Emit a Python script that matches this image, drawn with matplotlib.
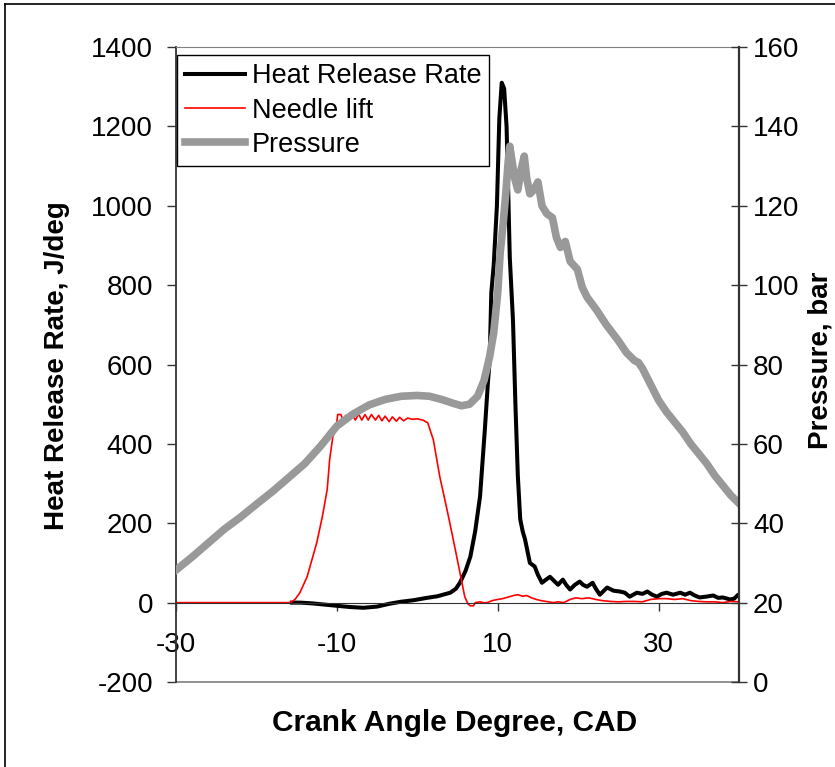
import matplotlib
matplotlib.use("Agg")
import matplotlib.pyplot as plt
from matplotlib.lines import Line2D

plt.rcParams['font.family'] = ['Liberation Sans', 'DejaVu Sans']
plt.rcParams['axes.unicode_minus'] = False

# ---------------- data ----------------
hrr_x = [-15.6, -14.5, -13.0, -11.5, -10.0, -8.4, -6.7, -5.0, -3.5, -2.1, -0.5, 1.2, 2.5, 4.1, 4.8,
         5.3, 6.0, 6.6, 7.2, 7.8, 8.4, 8.8, 9.0, 9.2, 9.5, 9.9, 10.2, 10.5, 10.8, 11.1, 11.3, 11.5,
         11.9, 12.2, 12.5, 12.8, 13.1, 13.4, 14.0, 14.6, 15.0, 15.5, 16.0, 16.5, 17.0, 17.5, 18.1,
         18.5, 19.0, 19.6, 20.2, 20.6, 21.1, 21.8, 22.2, 22.7, 23.6, 24.4, 25.2, 25.8, 26.4, 27.3,
         28.0, 28.6, 29.2, 29.8, 30.4, 31.0, 31.8, 32.7, 33.3, 33.9, 34.5, 35.1, 35.9, 36.8, 37.4,
         38.0, 38.9, 39.4, 39.8]
hrr_y = [0, 0, -2, -5, -8, -11, -13, -10, -3, 2, 6, 12, 16, 25, 35,
         50, 80, 116, 180, 267, 436, 560, 610, 780, 850, 1000, 1220, 1310, 1295, 1200, 1040, 870,
         710, 500, 320, 210, 180, 159, 100, 91, 70, 50, 58, 65, 55, 45, 58,
         45, 33, 45, 53, 45, 40, 50, 35, 20, 38, 30, 28, 25, 15, 25,
         22, 28, 20, 15, 22, 25, 20, 25, 20, 25, 18, 13, 15, 18, 12,
         13, 8, 10, 18]

needle_x = [-30.0, -15.8, -15.2, -14.6, -13.7, -13.1, -12.5, -11.8, -11.2, -10.9, -10.5, -10.1, -9.9,
            -9.5, -9.2, -8.9, -8.5, -8.1, -7.7, -7.3, -6.9, -6.5, -6.1, -5.7, -5.2, -4.8, -4.4,
            -4.0, -3.5, -3.1, -2.6, -2.2, -1.7, -1.2, -0.6, 0.0, 0.7, 1.3, 2.0, 2.8, 3.7, 4.4, 5.3,
            5.9, 6.3, 6.6, 7.0, 7.2, 7.8, 8.2, 8.7, 9.3, 10.0, 10.6, 11.3, 12.0, 12.5, 13.1, 13.6,
            14.2, 14.8, 15.4, 16.0, 16.9, 17.5, 18.2, 19.0, 19.7, 20.5, 21.3, 22.2, 23.0, 24.0,
            25.0, 26.0, 27.0, 28.0, 29.0, 30.0, 31.0, 32.0, 33.0, 34.0, 35.0, 36.0, 37.0, 38.0,
            39.0, 40.0]
needle_y = [0, 0, 8, 25, 65, 108, 151, 217, 285, 360, 418, 436, 474,
            474, 458, 472, 462, 476, 460, 475, 460, 474, 460, 474, 460, 472, 458,
            470, 456, 468, 457, 467, 458, 465, 462, 463, 460, 453, 410, 317, 234, 166, 76,
            15, -3, -8, -8, 0, 2, 0, 0, 5, 8, 10, 14, 18, 20, 16, 18,
            12, 8, 5, 3, 0, 2, 0, 8, 12, 10, 12, 8, 5, 3,
            2, 3, 3, 2, 8, 10, 10, 8, 10, 5, 3, 2, 2, 0,
            3, 2]

press_x = [-30, -28, -26, -24, -22, -20, -18, -16, -14, -12, -10, -8, -6, -4, -2, 0, 1.5, 3, 4.5,
           5.5, 6.5, 7.5, 8.3, 9.0, 9.5, 10.0, 10.3, 10.7, 11.0, 11.3, 11.5, 11.8, 12.1, 12.5,
           12.9, 13.3, 13.6, 14.0, 14.5, 15.0, 15.5, 16.1, 16.8, 17.3, 17.8, 18.4, 19.0, 19.9,
           20.5, 21.1, 22.3, 23.5, 25.0, 26.0, 27.0, 27.5, 28.0, 29.0, 30.0, 31.0, 32.0, 33.0,
           34.0, 35.0, 36.0, 37.0, 38.0, 39.0, 40.0]
press_y = [28.2, 31.5, 35.0, 38.5, 41.5, 44.8, 48.0, 51.5, 55.0, 59.5, 64.5, 67.5, 69.8, 71.2, 72.0,
           72.2, 72.0, 71.2, 70.2, 69.6, 70.0, 72.0, 76.0, 82.0, 88.0, 98.0, 108.0, 116.0, 123.0,
           131.0, 135.0, 131.0, 127.0, 124.0, 129.0, 132.5, 127.0, 123.0, 124.0, 126.0, 120.0,
           118.0, 117.0, 112.0, 109.5, 111.0, 106.0, 104.0, 99.5, 97.0, 93.7, 90.0, 86.0, 83.0,
           81.0, 80.5, 79.0, 75.0, 71.0, 68.0, 65.5, 63.0, 60.0, 57.5, 55.0, 52.0, 49.5, 47.0, 45.0]

x_ticks = [-30, -10, 10, 30]
left_ticks = [-200, 0, 200, 400, 600, 800, 1000, 1200, 1400]
right_ticks = [0, 20, 40, 60, 80, 100, 120, 140, 160]

# ---------------- figure ----------------
W, H = 835, 767
fig = plt.figure(figsize=(W / 100, H / 100), dpi=100)
ax = fig.add_axes([176 / W, 1 - 682 / H, (739 - 176) / W, (682 - 47) / H])
ax2 = ax.twinx()

l1, = ax.plot(hrr_x, hrr_y, color='black', lw=2.9, label='Heat Release Rate', solid_joinstyle='round')
l2, = ax.plot(needle_x, needle_y, color='#ff0000', lw=1.2, label='Needle lift')
l3, = ax2.plot(press_x, press_y, color='#999999', lw=5.5, label='Pressure', solid_joinstyle='round')

ax.set_xlim(-30, 40)
ax.set_ylim(-200, 1400)
ax2.set_ylim(0, 160)

ax.set_xticks(x_ticks)
ax.set_yticks(left_ticks)
ax2.set_yticks(right_ticks)

# spines
ax.spines['bottom'].set_position(('data', 0))
ax.spines['bottom'].set_color('#333333')
ax.spines['top'].set_color('#808080')
ax.spines['left'].set_color('#333333')
ax.spines['right'].set_visible(False)
for s in ['top', 'bottom', 'left']:
    ax2.spines[s].set_visible(False)
ax2.spines['right'].set_color('#333333')
ax2.spines['right'].set_linewidth(1.6)
ax.spines['left'].set_linewidth(1.3)
ax.plot([0, 1], [0, 0], transform=ax.transAxes, color='#808080', lw=1.2, clip_on=False)

ax.tick_params(axis='x', direction='out', length=6, width=1, labelsize=20, pad=15, color='#333333')
ax.tick_params(axis='y', direction='out', length=6.5, width=1, labelsize=20, pad=10, color='#333333')
ax2.tick_params(axis='y', direction='inout', length=12, width=1, labelsize=20, pad=4, color='#333333')

fig.text(57 / W, 1 - 366 / H, 'Heat Release Rate, J/deg', fontsize=20, fontweight='bold',
         rotation=90, ha='center', va='center')
fig.text(821 / W, 1 - 360 / H, 'Pressure, bar', fontsize=20, fontweight='bold',
         rotation=90, ha='center', va='center')
fig.text(455 / W, 1 - 723 / H, 'Crank Angle Degree, CAD', fontsize=21.5, fontweight='bold',
         ha='center', va='center')

leg = ax2.legend(handles=[l1, l2, l3], loc='upper left',
                 bbox_to_anchor=(0.002, 0.987), borderaxespad=0, fontsize=19.5,
                 frameon=True, fancybox=False, framealpha=1, edgecolor='black',
                 handlelength=2.2, handletextpad=0.25, labelspacing=0.3, borderpad=0.3)
leg.get_frame().set_linewidth(1.0)

# outer border (left and top)
fig.add_artist(Line2D([5 / W, 5 / W], [0, 1 - 4 / H], color='black', lw=1.2, transform=fig.transFigure))
fig.add_artist(Line2D([5 / W, 1], [1 - 4 / H, 1 - 4 / H], color='black', lw=1.2, transform=fig.transFigure))

fig.savefig('out.png', dpi=100)
